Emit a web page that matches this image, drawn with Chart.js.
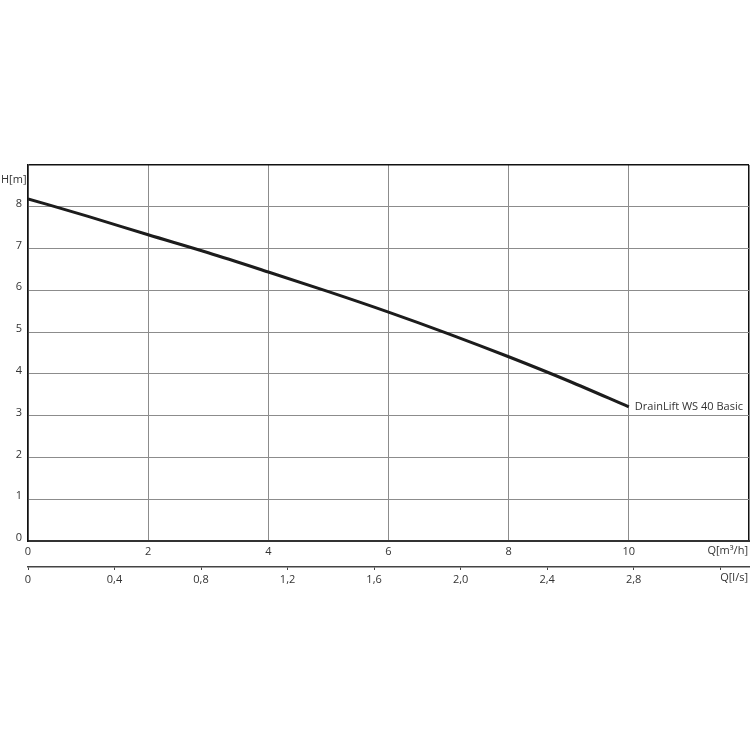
<!DOCTYPE html>
<html>
<head>
<meta charset="utf-8">
<script src="https://cdn.jsdelivr.net/npm/chart.js@4/dist/chart.umd.min.js"></script>
<style>
html,body{margin:0;padding:0;background:#fff;}
#wrap{width:750px;height:750px;}
</style>
</head>
<body>
<div id="wrap"><canvas id="c" width="750" height="750"></canvas></div>
<script>
// ---- data ----
const flowM3h = [0, 1, 2, 3, 4, 5, 6, 7, 8, 9, 10];
const headM   = [8.19, 7.77, 7.33, 6.90, 6.44, 5.97, 5.48, 4.96, 4.41, 3.83, 3.21];
const seriesName = 'DrainLift WS 40 Basic';

const m3hTickValues = [0, 2, 4, 6, 8, 10, 12];
const m3hTickLabels = ['0', '2', '4', '6', '8', '10', ''];
const lsTickValues  = [0, 0.4, 0.8, 1.2, 1.6, 2.0, 2.4, 2.8, 3.2];
const lsTickLabels  = ['0', '0,4', '0,8', '1,2', '1,6', '2,0', '2,4', '2,8', ''];
const headTickValues = [0, 1, 2, 3, 4, 5, 6, 7, 8, 9];
const headTickLabels = ['0', '1', '2', '3', '4', '5', '6', '7', '8', ''];

const yTitle = 'H[m]';
const xTitle = 'Q[m³/h]';
const x2Title = 'Q[l/s]';

const FONT = '"Open Sans", "DejaVu Sans", sans-serif';
const TEXT = '#333';
const GRID = '#8c8c8c';

Chart.defaults.font.family = FONT;
Chart.defaults.font.size = 11;
Chart.defaults.color = TEXT;

const labelsPlugin = {
  id: 'extraLabels',
  afterDraw(chart) {
    const ctx = chart.ctx;
    const x = chart.scales.x, y = chart.scales.y;
    ctx.save();
    ctx.font = '11px ' + FONT;
    ctx.fillStyle = TEXT;
    ctx.textBaseline = 'middle';
    ctx.textAlign = 'left';
    ctx.fillText(yTitle, 1, 180);
    ctx.textAlign = 'right';
    ctx.fillText(xTitle, 748, 551);
    ctx.fillText(x2Title, 748, 578);
    ctx.textAlign = 'left';
    const last = flowM3h.length - 1;
    ctx.fillText(seriesName, x.getPixelForValue(flowM3h[last]) + 6, y.getPixelForValue(headM[last]));
    ctx.restore();
  }
};

new Chart(document.getElementById('c'), {
  type: 'line',
  data: {
    datasets: [{
      label: seriesName,
      data: flowM3h.map((q, i) => ({x: q, y: headM[i]})),
      borderColor: '#1c1c1c',
      borderWidth: 3,
      pointRadius: 0,
      cubicInterpolationMode: 'monotone',
      fill: false
    }]
  },
  options: {
    responsive: false,
    animation: false,
    layout: { padding: { top: 165, right: 1, left: 0, bottom: 159 } },
    plugins: { legend: { display: false }, tooltip: { enabled: false } },
    scales: {
      x: {
        type: 'linear', position: 'bottom', min: 0, max: 12,
        afterBuildTicks(s) { s.ticks = m3hTickValues.map(v => ({value: v})); },
        afterFit(s) { s.height = 26; s.paddingRight = 0; s.paddingLeft = 0; },
        ticks: {
          padding: 4,
          maxRotation: 0,
          autoSkip: false,
          callback(v) { const i = m3hTickValues.indexOf(v); return i >= 0 ? m3hTickLabels[i] : ''; }
        },
        grid: {
          drawTicks: false,
          color(ctx) { return ctx.tick && ctx.tick.value === 12 ? '#111' : GRID; },
          lineWidth(ctx) { return ctx.tick && ctx.tick.value === 12 ? 1.5 : 1; }
        },
        border: { color: '#333', width: 2 }
      },
      x2: {
        type: 'linear', position: 'bottom', min: 0, max: 12 / 3.6,
        afterBuildTicks(s) { s.ticks = lsTickValues.map(v => ({value: v})); },
        afterFit(s) { s.height = 24; s.paddingRight = 0; s.paddingLeft = 0; },
        ticks: {
          padding: 3,
          maxRotation: 0,
          autoSkip: false,
          callback(v) {
            const i = lsTickValues.findIndex(t => Math.abs(t - v) < 1e-6);
            return i >= 0 ? lsTickLabels[i] : '';
          }
        },
        grid: { display: true, drawOnChartArea: false, drawTicks: true, tickLength: 3, tickColor: '#444', lineWidth: 1 },
        border: { color: '#444', width: 1.5 }
      },
      y: {
        type: 'linear', min: 0, max: 9,
        afterBuildTicks(s) { s.ticks = headTickValues.map(v => ({value: v})); },
        afterFit(s) { s.width = 28; s.paddingTop = 0; s.paddingBottom = 0; },
        ticks: {
          padding: 6,
          labelOffset: -3,
          autoSkip: false,
          callback(v) { const i = headTickValues.indexOf(v); return i >= 0 ? headTickLabels[i] : ''; }
        },
        grid: {
          drawTicks: false,
          color(ctx) { return ctx.tick && ctx.tick.value === 9 ? '#111' : GRID; },
          lineWidth(ctx) { return ctx.tick && ctx.tick.value === 9 ? 1.5 : 1; }
        },
        border: { color: '#111', width: 1.5 }
      }
    }
  },
  plugins: [labelsPlugin]
});
</script>
</body>
</html>
